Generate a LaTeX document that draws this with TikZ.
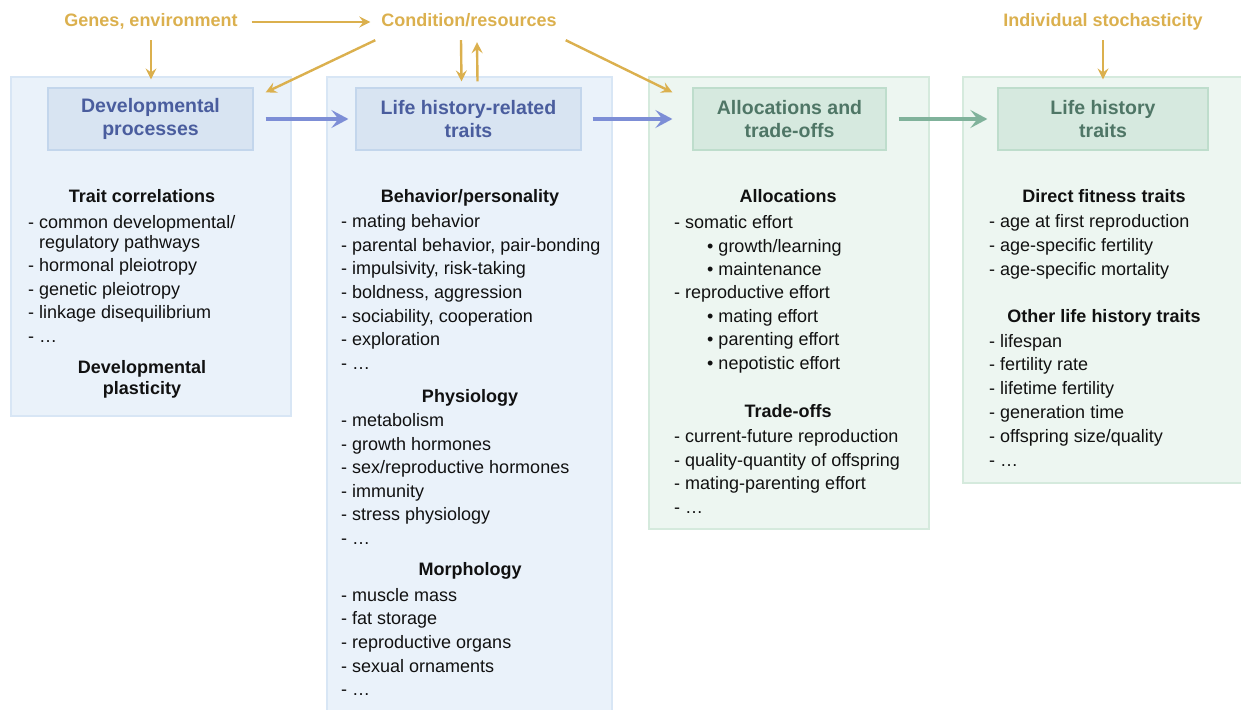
\documentclass[tikz,border=0pt]{standalone}
\usepackage{fontspec}
\setmainfont{Liberation Sans}
\usetikzlibrary{arrows.meta}
\definecolor{bOut}{HTML}{EAF2FA}
\definecolor{bOutLine}{HTML}{D8E6F5}
\definecolor{bIn}{HTML}{D8E4F2}
\definecolor{bInLine}{HTML}{C3D6EC}
\definecolor{gOut}{HTML}{EDF6F1}
\definecolor{gOutLine}{HTML}{D5EADD}
\definecolor{gIn}{HTML}{D6E9DF}
\definecolor{gInLine}{HTML}{BEDDCC}
\definecolor{gold}{HTML}{DBB04E}
\definecolor{bArrow}{HTML}{7D8ED6}
\definecolor{gArrow}{HTML}{80B29B}
\definecolor{bTitle}{HTML}{4A5D9E}
\definecolor{gTitle}{HTML}{4F7666}
\definecolor{txt}{HTML}{111111}
\begin{document}
\begin{tikzpicture}[x=1pt,y=-1pt,
  outerblue/.style={draw=bOutLine,fill=bOut,line width=1.2pt,inner sep=0pt},
  outergreen/.style={draw=gOutLine,fill=gOut,line width=1.2pt,inner sep=0pt},
  innerblue/.style={draw=bInLine,fill=bIn,line width=1.2pt,inner sep=0pt,minimum height=62pt,
    align=center,text=bTitle,font=\fontsize{19.5}{23}\selectfont\bfseries},
  innergreen/.style={draw=gInLine,fill=gIn,line width=1.2pt,inner sep=0pt,minimum height=62pt,
    align=center,text=gTitle,font=\fontsize{19.5}{23}\selectfont\bfseries},
  toplabel/.style={anchor=base,inner sep=0pt,text height=14pt,text depth=4pt,text=gold,
    font=\fontsize{18}{22}\selectfont\bfseries},
  item/.style={anchor=base west,inner sep=0pt,text=txt,font=\fontsize{18}{22}\selectfont},
  head/.style={anchor=base,inner sep=0pt,text=txt,font=\fontsize{18}{22}\selectfont\bfseries},
  goldarrow/.style={draw=gold,line width=2.4pt,-{Stealth[length=11pt,width=11pt,inset=4pt]}},
  bluearrow/.style={draw=bArrow,line width=3.5pt,-{Stealth[length=17pt,width=18pt,inset=7pt]}},
  greenarrow/.style={draw=gArrow,line width=3.5pt,-{Stealth[length=17pt,width=18pt,inset=7pt]}}
]
\useasboundingbox (0,0) rectangle (1241,709);
\clip (0,0) rectangle (1241,709);

% outer boxes
\node[outerblue,minimum width=280pt,minimum height=339pt] (box1) at (151,246.5) {};
\node[outerblue,minimum width=285pt,minimum height=635pt] (box2) at (469.5,394.5) {};
\node[outergreen,minimum width=280pt,minimum height=452pt] (box3) at (789,303) {};
\node[outergreen,minimum width=280pt,minimum height=406pt] (box4) at (1103,280) {};

% inner title boxes
\node[innerblue,minimum width=205pt] (dev) at (150.5,119) {Developmental\\processes};
\node[innerblue,minimum width=225pt] (lhr) at (468.5,119) {Life history-related\\traits};
\node[innergreen,minimum width=193pt] (alloc) at (789.5,119) {Allocations and\\trade-offs};
\node[innergreen,minimum width=210pt] (lht) at (1103,119) {Life history\\traits};

% top labels
\node[toplabel] (genes) at (151,27) {Genes, environment};
\node[toplabel] (cond) at (469,27) {Condition/resources};
\node[toplabel] (indiv) at (1103,27) {Individual stochasticity};

% gold arrows
\draw[goldarrow] ([xshift=14pt]genes.east) -- ([xshift=-11pt]cond.west);
\draw[goldarrow] ([yshift=-9pt]genes.south) -- ([yshift=-3pt]box1.north);
\draw[goldarrow] ([xshift=-6pt,yshift=-9pt]cond.south west) -- ([xshift=12pt,yshift=-5pt]dev.north east);
\draw[goldarrow] ([xshift=-8pt,yshift=-9pt]cond.south) -- ([xshift=-8pt,yshift=-5pt]box2.north);
\draw[goldarrow] ([xshift=8pt,yshift=-5pt]box2.north) -- ([xshift=8pt,yshift=-11pt]cond.south);
\draw[goldarrow] ([xshift=9pt,yshift=-9pt]cond.south east) -- ([xshift=-20pt,yshift=-5pt]alloc.north west);
\draw[goldarrow] ([yshift=-9pt]indiv.south) -- ([yshift=-3pt]box4.north);

% main arrows
\draw[bluearrow] ([xshift=12pt]dev.east) -- ([xshift=-7pt]lhr.west);
\draw[bluearrow] ([xshift=11pt]lhr.east) -- ([xshift=-20pt]alloc.west);
\draw[greenarrow] ([xshift=12pt]alloc.east) -- ([xshift=-10pt]lht.west);

% box 1 text
\node[head] (h11) at (142,202) {Trait correlations};
\node[item] (a1) at (28,228) {- common developmental/};
\node[item] (a2) at (39,248) {regulatory pathways};
\node[item] (a3) at (28,271.5) {- hormonal pleiotropy};
\node[item] (a4) at (28,295) {- genetic pleiotropy};
\node[item] (a5) at (28,318.5) {- linkage disequilibrium};
\node[item] (a6) at (28,342) {- …};
\node[head] (h12) at (142,373) {Developmental};
\node[head] (h13) at (142,394) {plasticity};

% box 2 text
\node[head] (h21) at (470,202) {Behavior/personality};
\node[item] (b1) at (341,227) {- mating behavior};
\node[item] (b2) at (341,251) {- parental behavior, pair-bonding};
\node[item] (b3) at (341,274) {- impulsivity, risk-taking};
\node[item] (b4) at (341,298) {- boldness, aggression};
\node[item] (b5) at (341,322) {- sociability, cooperation};
\node[item] (b6) at (341,345) {- exploration};
\node[item] (b7) at (341,369) {- …};
\node[head] (h22) at (470,402) {Physiology};
\node[item] (b8) at (341,426) {- metabolism};
\node[item] (b9) at (341,450) {- growth hormones};
\node[item] (b10) at (341,473) {- sex/reproductive hormones};
\node[item] (b11) at (341,497) {- immunity};
\node[item] (b12) at (341,520) {- stress physiology};
\node[item] (b13) at (341,544) {- …};
\node[head] (h23) at (470,575) {Morphology};
\node[item] (b14) at (341,601) {- muscle mass};
\node[item] (b15) at (341,624) {- fat storage};
\node[item] (b16) at (341,648) {- reproductive organs};
\node[item] (b17) at (341,672) {- sexual ornaments};
\node[item] (b18) at (341,695) {- …};

% box 3 text
\node[head] (h31) at (788,202) {Allocations};
\node[item] (c1) at (674,228) {- somatic effort};
\node[item] (c2) at (707,252) {• growth/learning};
\node[item] (c3) at (707,275) {• maintenance};
\node[item] (c4) at (674,298) {- reproductive effort};
\node[item] (c5) at (707,322) {• mating effort};
\node[item] (c6) at (707,345) {• parenting effort};
\node[item] (c7) at (707,369) {• nepotistic effort};
\node[head] (h32) at (788,417) {Trade-offs};
\node[item] (c8) at (674,442) {- current-future reproduction};
\node[item] (c9) at (674,466) {- quality-quantity of offspring};
\node[item] (c10) at (674,489) {- mating-parenting effort};
\node[item] (c11) at (674,513) {- …};

% box 4 text
\node[head] (h41) at (1104,202) {Direct fitness traits};
\node[item] (d1) at (989,227) {- age at first reproduction};
\node[item] (d2) at (989,251) {- age-specific fertility};
\node[item] (d3) at (989,275) {- age-specific mortality};
\node[head] (h42) at (1104,322) {Other life history traits};
\node[item] (d4) at (989,347) {- lifespan};
\node[item] (d5) at (989,370) {- fertility rate};
\node[item] (d6) at (989,394) {- lifetime fertility};
\node[item] (d7) at (989,418) {- generation time};
\node[item] (d8) at (989,442) {- offspring size/quality};
\node[item] (d9) at (989,466) {- …};
\end{tikzpicture}
\end{document}
